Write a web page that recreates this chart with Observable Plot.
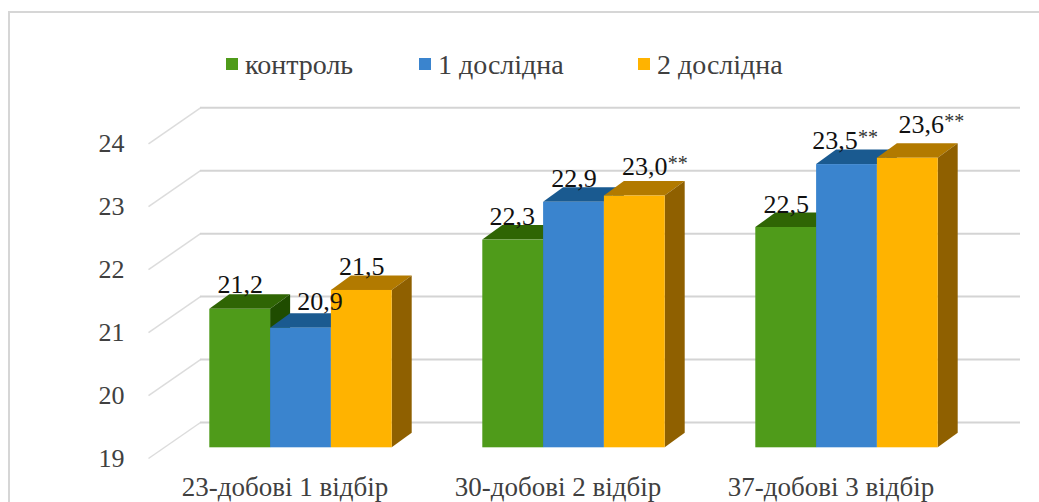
<!DOCTYPE html>
<html>
<head>
<meta charset="utf-8">
<script src="https://cdn.jsdelivr.net/npm/d3@7"></script>
<script src="https://cdn.jsdelivr.net/npm/@observablehq/plot@0.6"></script>
<style>
  html, body { margin: 0; padding: 0; background: #fff; }
  #chart { position: relative; width: 1039px; height: 502px; overflow: hidden; font-family: "Liberation Serif", serif; }
  #frame { position: absolute; left: 8px; top: 11px; right: -4px; height: 500px; border: 2px solid #d6d6d6; border-bottom: none; box-sizing: border-box; }
  #legend { position: absolute; left: 226px; top: 50px; height: 30px; font-size: 28px; color: #404040; }
  #legend span { position: absolute; top: 0; white-space: nowrap; line-height: 29px; }
  #legend i { display: inline-block; width: 12px; height: 12px; margin-right: 7px; vertical-align: 4px; }
  svg { position: absolute; left: 0; top: 0; background: transparent; }
</style>
</head>
<body>
<div id="chart"><div id="frame"></div><div id="legend"></div></div>
<script>
// ---- data ----
const categories = ["23-добові 1 відбір", "30-добові 2 відбір", "37-добові 3 відбір"];
const seriesNames = ["контроль", "1 дослідна", "2 дослідна"];
const control = [21.2, 22.3, 22.5];
const trial1 = [20.9, 22.9, 23.5];
const trial2 = [21.5, 23.0, 23.6];
const marks2 = [["", "", ""], ["", "", "**"], ["", "**", "**"]]; // series × group
const yTicks = [19, 20, 21, 22, 23, 24];

// ---- style ----
const front = ["#4f9b1a", "#3a84ce", "#ffb300"];
const topFace = ["#2f6504", "#1a5a90", "#b27a00"];
const sideFace = ["#1f4c00", "#14466f", "#8f6000"];
const legendLeft = [0, 193, 412];

// ---- layout helpers: one x unit = one category, one y unit = one axis step ----
const pxX = (967 - 148) / 3;
const pxY = (458 - 143.3) / 5;
const barW = 60.8 / pxX;
const depthX = 20 / pxX, depthY = 14.5 / pxY;
const wallX = 52 / pxX, wallY = 36 / pxY;
const wallEnd = (1020 - 148) / pxX;
const planeDx = 16, planeDy = -10.7;
// hand placement of the value labels, px, series × group
const nudgeX = [[0, -1, 0], [19, 0, -12], [0, 10, 13.5]];
const nudgeY = [[16, 15, 15], [18, 15, 16], [15, 21, 25]];

const values = [control, trial1, trial2];
const centre = (g, s) => g + 0.5 + (s - 1) * barW;

function barMarks(s) {
  const bars = categories.map((c, g) => ({
    id: c, left: centre(g, s) - barW / 2, right: centre(g, s) + barW / 2, v: values[s][g]
  }));
  const topRows = bars.flatMap(b => [
    {id: b.id, x1: b.left, x2: b.right, y1: b.v, y2: b.v},
    {id: b.id, x1: b.left + depthX, x2: b.right + depthX, y1: b.v + depthY, y2: b.v + depthY}
  ]);
  const sideRows = bars.flatMap(b => [
    {id: b.id, x1: b.right, x2: b.right, y1: 19, y2: b.v},
    {id: b.id, x1: b.right + depthX, x2: b.right + depthX, y1: 19 + depthY, y2: b.v + depthY}
  ]);
  const opts = {x1: "x1", x2: "x2", y1: "y1", y2: "y2", z: "id", dx: planeDx, dy: planeDy};
  return [
    Plot.area(topRows, {...opts, fill: topFace[s]}),
    Plot.area(sideRows, {...opts, fill: sideFace[s]}),
    Plot.rect(bars, {x1: "left", x2: "right", y1: 19, y2: "v", fill: front[s], dx: planeDx, dy: planeDy})
  ];
}

const labels = values.flatMap((vals, s) => vals.map((v, g) => ({
  x: centre(g, s) + nudgeX[s][g] / pxX,
  xEnd: centre(g, s) + (nudgeX[s][g] + 23) / pxX,
  y: v + nudgeY[s][g] / pxY,
  text: v.toFixed(1).replace(".", ","),
  star: marks2[s][g]
})));

const plot = Plot.plot({
  width: 1039,
  height: 502,
  marginLeft: 148,
  marginRight: 72,
  marginTop: 0,
  marginBottom: 0,
  style: {background: "transparent", fontFamily: "'Liberation Serif', serif"},
  x: {domain: [0, 3], axis: null},
  y: {domain: [19, 24.6], range: [458, 458 - 5.6 * pxY], axis: null},
  marks: [
    Plot.link(yTicks, {x1: 0, x2: wallX, y1: d => d, y2: d => d + wallY, stroke: "#dcdcdc", strokeWidth: 1.5}),
    Plot.ruleY(yTicks, {y: d => d + wallY, x1: wallX, x2: wallEnd, stroke: "#d4d4d4", strokeWidth: 2}),
    Plot.axisY({ticks: yTicks, tickSize: 0, tickPadding: 24, tickFormat: d => d, fontSize: 26, fill: "#404040", label: null}),
    ...barMarks(0), ...barMarks(1), ...barMarks(2),
    Plot.text(labels, {x: "x", y: "y", text: "text", dx: planeDx, dy: planeDy, lineAnchor: "bottom", fontSize: 26, fill: "#111"}),
    Plot.text(labels.filter(d => d.star), {x: "xEnd", y: "y", text: "star", dx: planeDx, dy: planeDy - 5, textAnchor: "start", lineAnchor: "bottom", fontSize: 20, fill: "#333"}),
    Plot.text(categories, {x: (d, i) => i + 0.5, y: 19, dy: 37, lineAnchor: "bottom", fontSize: 27, fill: "#404040"})
  ]
});
document.getElementById("chart").appendChild(plot);

const legend = document.getElementById("legend");
seriesNames.forEach((n, s) => {
  const el = document.createElement("span");
  el.style.left = legendLeft[s] + "px";
  const sw = document.createElement("i");
  sw.style.background = front[s];
  el.appendChild(sw);
  el.appendChild(document.createTextNode(n));
  legend.appendChild(el);
});
</script>
</body>
</html>
